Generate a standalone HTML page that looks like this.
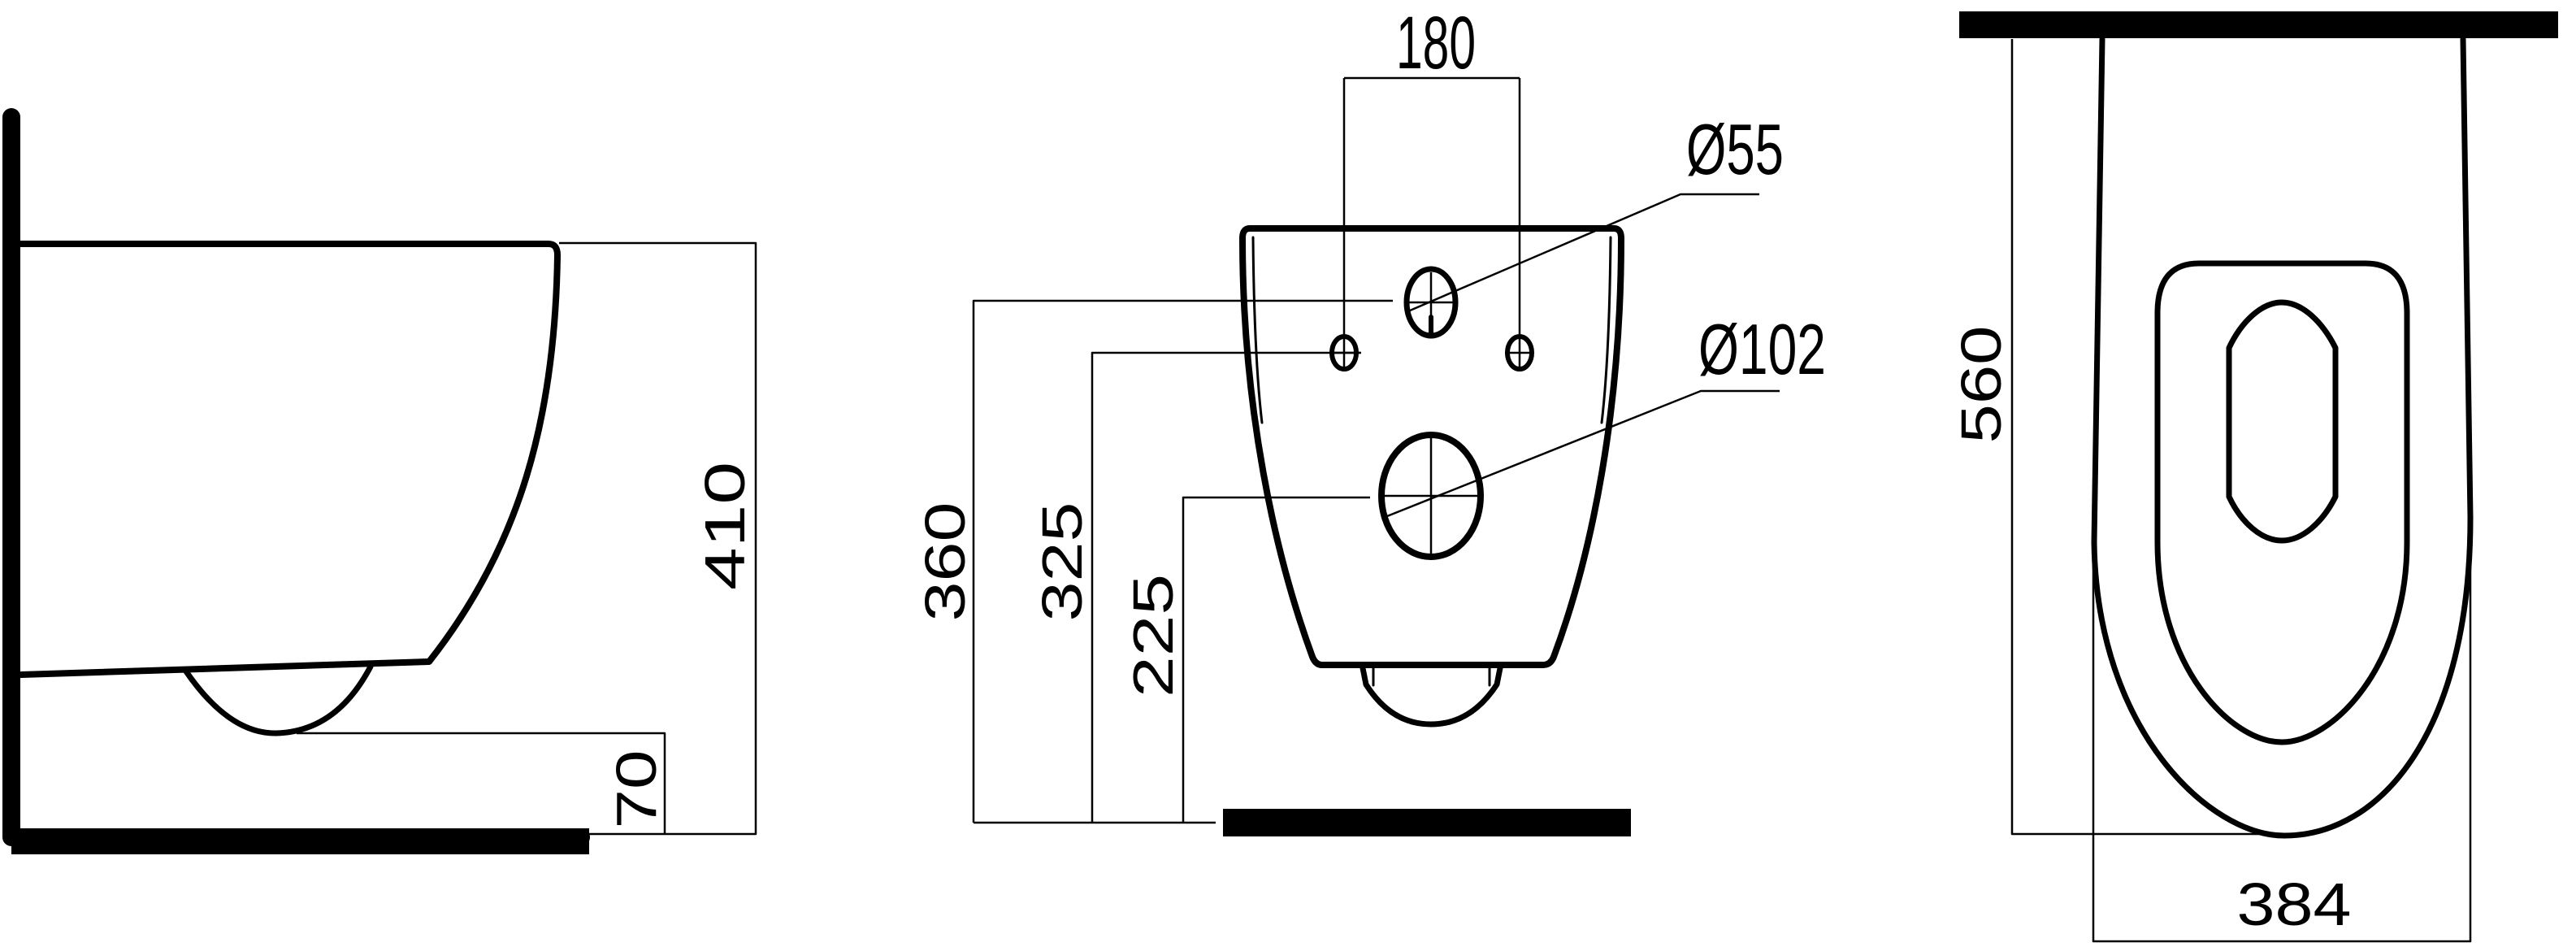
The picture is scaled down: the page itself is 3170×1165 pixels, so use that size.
<!DOCTYPE html>
<html><head><meta charset="utf-8"><style>html,body{margin:0;padding:0;background:#fff}svg{display:block}</style></head>
<body>
<svg width="3170" height="1165" viewBox="0 0 3170 1165" xmlns="http://www.w3.org/2000/svg" font-family="Liberation Sans, sans-serif">
<rect width="3170" height="1165" fill="#fff"/>
<g fill="none" stroke="#000" stroke-linejoin="round" stroke-linecap="round">
<!-- SIDE VIEW -->
<path d="M14,144 L14,1030 L715,1030" stroke-width="22" stroke-linecap="round"/>
<rect x="14" y="1019" width="711" height="32" fill="#000" stroke="none"/>
<path d="M26,300 L675,300 Q686,300 686,314 C683,515 640,672 528,814 L26,830" stroke-width="8"/>
<path d="M229,826 Q282,903 340,902 Q414,900 456,820" stroke-width="7"/>
<g stroke-width="2.5" stroke-linecap="butt">
<path d="M688,299 L930,299 L930,1026 L725,1026"/>
<path d="M365,902 L818,902 L818,1026"/>
</g>
<!-- FRONT VIEW -->
<path d="M1538,281 L1986,281 Q1995,281 1995,293 C1995,500 1960,680 1912,808 Q1908,818 1899,818 L1627,818 Q1619,818 1615,808 C1568,680 1529,500 1529,293 Q1529,281 1538,281 Z" stroke-width="8"/>
<path d="M1542,292 C1543,400 1547,470 1553,520" stroke-width="3"/>
<path d="M1982,292 C1981,400 1977,470 1971,520" stroke-width="3"/>
<path d="M1677,822 L1681,842 Q1712,891 1761,891 Q1810,891 1842,842 L1846,822" stroke-width="7"/>
<path d="M1690,822 L1690,843 M1833,822 L1833,843" stroke-width="3"/>
<ellipse cx="1654" cy="434" rx="15" ry="20" stroke-width="6"/>
<ellipse cx="1870" cy="434" rx="15" ry="20" stroke-width="6"/>
<ellipse cx="1761" cy="372" rx="30" ry="41" stroke-width="7"/>
<ellipse cx="1761" cy="610" rx="61" ry="75" stroke-width="8"/>
<path d="M1761,390 L1761,410" stroke-width="6"/>
<g stroke-width="2.5" stroke-linecap="butt">
<path d="M1654,96 L1870,96 M1654,96 L1654,454 M1870,96 L1870,454 M1636,434 L1674,434 M1852,434 L1888,434"/>
<path d="M1734,372 L1790,372 M1761,335 L1761,410 M1702,610 L1820,610 M1761,538 L1761,684"/>
<path d="M1198,1012 L1198,370 L1714,370 M1344,1012 L1344,434 L1675,434 M1456,1012 L1456,612 L1686,612 M1198,1012 L1496,1012"/>
<path d="M1735,382 L2068,239 L2165,239"/>
<path d="M1707,635 L2093,481 L2190,481"/>
</g>
<rect x="1505" y="995" width="502" height="34" fill="#000" stroke="none"/>
<!-- TOP VIEW -->
<rect x="2411" y="14" width="737" height="33" fill="#000" stroke="none"/>
<path d="M2587,48 L2577,667 C2580,900 2720,1028 2811,1028 C2930,1028 3040,900 3040,637 L3031,48" stroke-width="7"/>
<path d="M2706,324 L2911,324 Q2962,324 2962,385 L2962,667 C2962,820 2870,913 2808,913 C2745,913 2655,820 2655,667 L2655,385 Q2655,324 2706,324 Z" stroke-width="7"/>
<path d="M2743,428 C2758,396 2783,372 2808,372 C2833,372 2858,396 2874,428 L2874,611 C2858,643 2833,665 2808,665 C2783,665 2758,643 2743,611 Z" stroke-width="7"/>
<g stroke-width="2.5" stroke-linecap="butt">
<path d="M2476,48 L2476,1026 L2811,1026"/>
<path d="M2576,667 L2576,1158 L3040,1158 L3040,640"/>
</g>
</g>
<g fill="#000" font-size="70">
<text x="0" y="0" text-anchor="middle" dominant-baseline="central" textLength="158" lengthAdjust="spacingAndGlyphs" transform="translate(892,647) rotate(-90)">410</text>
<text x="0" y="0" text-anchor="middle" dominant-baseline="central" textLength="97" lengthAdjust="spacingAndGlyphs" transform="translate(783,971) rotate(-90)">70</text>
<text x="0" y="0" text-anchor="middle" dominant-baseline="central" textLength="147" lengthAdjust="spacingAndGlyphs" transform="translate(1163,691) rotate(-90)">360</text>
<text x="0" y="0" text-anchor="middle" dominant-baseline="central" textLength="147" lengthAdjust="spacingAndGlyphs" transform="translate(1307,691) rotate(-90)">325</text>
<text x="0" y="0" text-anchor="middle" dominant-baseline="central" textLength="152" lengthAdjust="spacingAndGlyphs" transform="translate(1419,782) rotate(-90)">225</text>
<text x="0" y="0" text-anchor="middle" dominant-baseline="central" textLength="145" lengthAdjust="spacingAndGlyphs" transform="translate(2438,473) rotate(-90)">560</text>
<text x="2823" y="1138" text-anchor="middle" font-size="74" textLength="141" lengthAdjust="spacingAndGlyphs">384</text>
<text x="1718" y="84" font-size="92" textLength="98" lengthAdjust="spacingAndGlyphs">180</text>
<text x="2075" y="214" font-size="88" textLength="120" lengthAdjust="spacingAndGlyphs">Ø55</text>
<text x="2090" y="460" font-size="88" textLength="157" lengthAdjust="spacingAndGlyphs">Ø102</text>
</g>
</svg>
</body></html>
